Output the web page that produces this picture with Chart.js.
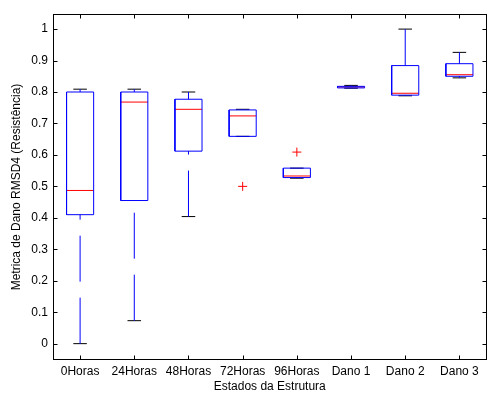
<!DOCTYPE html>
<html>
<head>
<meta charset="utf-8">
<script src="https://cdn.jsdelivr.net/npm/chart.js@4"></script>
<style>
  body { margin: 0; background: #fff; }
  #wrap { width: 492px; height: 394px; }
</style>
</head>
<body>
<div id="wrap"><canvas id="boxChart"></canvas></div>
<script>
const categories = ['0Horas', '24Horas', '48Horas', '72Horas', '96Horas', 'Dano 1', 'Dano 2', 'Dano 3'];
const upperWhisker = [0.809, 0.809, 0.800, 0.745, 0.558, 0.821, 1.000, 0.926];
const upperQuartile = [0.800, 0.800, 0.777, 0.743, 0.558, 0.818, 0.884, 0.890];
const medians = [0.487, 0.768, 0.745, 0.724, 0.533, 0.816, 0.796, 0.855];
const lowerQuartile = [0.410, 0.455, 0.612, 0.659, 0.528, 0.813, 0.790, 0.850];
const lowerWhisker = [0.000, 0.073, 0.404, 0.659, 0.526, 0.812, 0.788, 0.845];
const outlierGroup = ['72Horas', '96Horas'];
const outlierValues = [0.500, 0.609];
const yTicks = [0, 0.1, 0.2, 0.3, 0.4, 0.5, 0.6, 0.7, 0.8, 0.9, 1];

const boxHalf = 0.25;
const capHalf = 0.125;
const font = { family: "'Liberation Sans', Arial, sans-serif", size: 12 };

function segment(points, color, dash) {
  return {
    data: points,
    showLine: true,
    borderColor: color,
    borderWidth: 1,
    borderDash: dash || [],
    pointRadius: 0,
    fill: false
  };
}

const datasets = [];
categories.forEach(function (cat, i) {
  const x = i + 1;
  // box
  datasets.push(segment([
    { x: x - boxHalf, y: lowerQuartile[i] },
    { x: x + boxHalf, y: lowerQuartile[i] },
    { x: x + boxHalf, y: upperQuartile[i] },
    { x: x - boxHalf, y: upperQuartile[i] },
    { x: x - boxHalf, y: lowerQuartile[i] }
  ], '#0000ff'));
  // whiskers, dashed from the cap towards the box
  datasets.push(segment([{ x: x, y: upperWhisker[i] }, { x: x, y: upperQuartile[i] }], '#0000ff', [46, 16]));
  datasets.push(segment([{ x: x, y: lowerWhisker[i] }, { x: x, y: lowerQuartile[i] }], '#0000ff', [46, 16]));
  // caps
  datasets.push(segment([{ x: x - capHalf, y: upperWhisker[i] }, { x: x + capHalf, y: upperWhisker[i] }], '#000000'));
  datasets.push(segment([{ x: x - capHalf, y: lowerWhisker[i] }, { x: x + capHalf, y: lowerWhisker[i] }], '#000000'));
});
categories.forEach(function (cat, i) {
  const x = i + 1;
  datasets.push(segment([{ x: x - boxHalf, y: medians[i] }, { x: x + boxHalf, y: medians[i] }], '#ff0000'));
});
datasets.push({
  data: outlierGroup.map((g, k) => ({ x: categories.indexOf(g) + 1, y: outlierValues[k] })),
  showLine: false,
  pointStyle: 'cross',
  pointRadius: 4.5,
  borderColor: '#ff0000',
  borderWidth: 1
});

// MATLAB style frame with inward ticks on all four sides
const framePlugin = {
  id: 'frame',
  afterDatasetsDraw(chart) {
    const { ctx, chartArea: a, scales } = chart;
    ctx.save();
    ctx.strokeStyle = '#000';
    ctx.lineWidth = 1;
    const l = Math.round(a.left) + 0.5, r = Math.round(a.right) - 0.5;
    const t = Math.round(a.top) + 0.5, b = Math.round(a.bottom) - 0.5;
    ctx.strokeRect(l, t, r - l, b - t);
    ctx.beginPath();
    scales.x.ticks.forEach(function (tk) {
      const px = Math.round(scales.x.getPixelForValue(tk.value)) + 0.5;
      ctx.moveTo(px, b); ctx.lineTo(px, b - 4);
      ctx.moveTo(px, t); ctx.lineTo(px, t + 4);
    });
    scales.y.ticks.forEach(function (tk) {
      const py = Math.round(scales.y.getPixelForValue(tk.value)) + 0.5;
      ctx.moveTo(l, py); ctx.lineTo(l + 4, py);
      ctx.moveTo(r, py); ctx.lineTo(r - 4, py);
    });
    ctx.stroke();
    ctx.restore();
  }
};

const ctx = document.getElementById('boxChart').getContext('2d');

new Chart(ctx, {
  type: 'scatter',
  data: { datasets: datasets },
  options: {
    responsive: true,
    maintainAspectRatio: false,
    animation: false,
    layout: { padding: { top: 14, right: 1, left: 0, bottom: 0 } },
    plugins: {
      legend: { display: false },
      tooltip: { enabled: false }
    },
    scales: {
      x: {
        type: 'linear',
        min: 0.5,
        max: 8.5,
        afterBuildTicks: function (scale) {
          scale.ticks = categories.map((c, i) => ({ value: i + 1 }));
        },
        afterFit: function (scale) { scale.height = 34; },
        grid: { display: false, drawTicks: false, tickLength: 0 },
        border: { display: false },
        ticks: {
          color: '#000',
          font: font,
          padding: 4,
          maxRotation: 0,
          autoSkip: false,
          callback: function (value) { return categories[value - 1]; }
        },
        title: {
          display: true,
          text: 'Estados da Estrutura',
          color: '#000',
          font: font,
          padding: { top: 0, bottom: 0 }
        }
      },
      y: {
        min: -0.052,
        max: 1.048,
        afterBuildTicks: function (scale) {
          scale.ticks = yTicks.map(v => ({ value: v }));
        },
        afterFit: function (scale) { scale.width = 53; },
        grid: { display: false, drawTicks: false, tickLength: 0 },
        border: { display: false },
        ticks: {
          color: '#000',
          font: font,
          padding: 5,
          callback: function (value) { return String(value); }
        },
        title: {
          display: true,
          text: 'Metrica de Dano RMSD4 (Resistência)',
          color: '#000',
          font: font,
          padding: { top: 9, bottom: 0 }
        }
      }
    }
  },
  plugins: [framePlugin]
});
</script>
</body>
</html>
